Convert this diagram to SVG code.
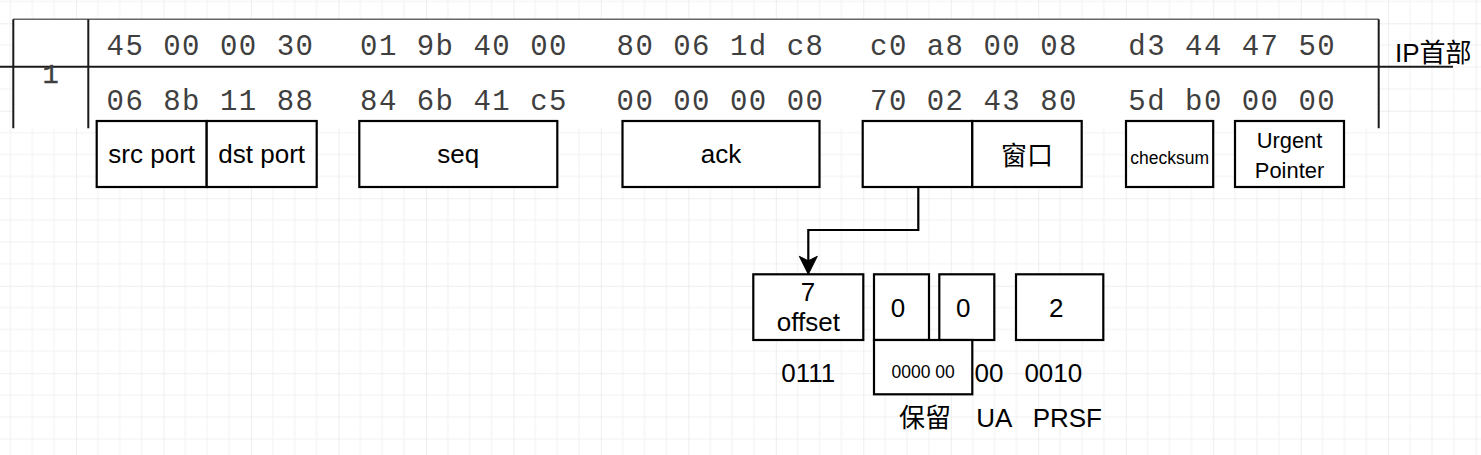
<svg xmlns="http://www.w3.org/2000/svg" width="1481" height="455" viewBox="0 0 1481 455">
<style>
.box{fill:#fff;stroke:#000;stroke-width:2.2}
.t{font-family:"Liberation Sans","Noto Sans CJK SC",Arial,sans-serif;font-size:26px;fill:#000;text-anchor:middle}
.hex{font-family:"Liberation Mono","DejaVu Sans Mono",monospace;font-size:29px;fill:#3f3f3f;letter-spacing:1.5px}
.tbl{stroke:#1a1a1a;stroke-width:2;fill:none}
.conn{fill:none;stroke:#000;stroke-width:2.2}
</style>
<defs>
<pattern id="grid" x="-11.48" y="23.3" width="87.48" height="87.48" patternUnits="userSpaceOnUse">
<path d="M21.87 0V87.48M43.74 0V87.48M65.61 0V87.48M0 21.87H87.48M0 43.74H87.48M0 65.61H87.48" stroke="#f2f2f2" stroke-width="1"/>
<path d="M0 0V87.48M0 0H87.48" stroke="#dddddd" stroke-width="1"/>
</pattern>
<marker id="arr" markerUnits="userSpaceOnUse" markerWidth="20" markerHeight="20" refX="0" refY="9" orient="auto" overflow="visible">
<path d="M12 9L-6 0L-1.5 9L-6 18Z" fill="#000" stroke="#000" stroke-width="1"/>
</marker>
</defs>
<rect width="1481" height="455" fill="#fff"/>
<rect width="1481" height="455" fill="url(#grid)"/>

<g id="ip-table">
<rect x="13.3" y="19.3" width="1365.4" height="109" fill="#fff"/>
<path d="M13.3 19.3H1378.7" stroke="#666" stroke-width="1.5" fill="none"/>
<path class="tbl" d="M13.3 19.3V128.3M88.3 19.3V128.3M1378.7 19.3V128.3M0 66.7H1453"/>
<text x="50.5" y="82.5" style="font-family:'Liberation Mono',monospace;font-size:27px;fill:#3f3f3f;stroke:#3f3f3f;stroke-width:0.4;text-anchor:middle">1</text>
<text class="hex" x="106.5" y="55">45 00 00 30</text>
<text class="hex" x="360" y="55">01 9b 40 00</text>
<text class="hex" x="616.5" y="55">80 06 1d c8</text>
<text class="hex" x="870" y="55">c0 a8 00 08</text>
<text class="hex" x="1128.3" y="55">d3 44 47 50</text>
<text class="hex" x="106.5" y="110">06 8b 11 88</text>
<text class="hex" x="360" y="110">84 6b 41 c5</text>
<text class="hex" x="616.5" y="110">00 00 00 00</text>
<text class="hex" x="870" y="110">70 02 43 80</text>
<text class="hex" x="1128.3" y="110">5d b0 00 00</text>
<text class="t" x="1395" y="62" style="text-anchor:start">IP首部</text>
</g>

<g id="connectors">
<path class="conn" d="M918.3 187V230H808.3V262.3" marker-end="url(#arr)"/>
</g>

<g id="src-port"><rect class="box" x="96.7" y="121" width="110" height="66"/><text class="t" x="151.7" y="163">src port</text></g>
<g id="dst-port"><rect class="box" x="206.7" y="121" width="110" height="66"/><text class="t" x="261.7" y="163">dst port</text></g>
<g id="seq"><rect class="box" x="359.3" y="121" width="198" height="66"/><text class="t" x="458.3" y="163">seq</text></g>
<g id="ack"><rect class="box" x="622.5" y="121" width="197" height="66"/><text class="t" x="721" y="163">ack</text></g>
<g id="offset-flags"><rect class="box" x="862.7" y="121" width="109.6" height="66"/></g>
<g id="window"><rect class="box" x="972.3" y="121" width="109.4" height="66"/><text class="t" x="1027" y="165">窗口</text></g>
<g id="checksum"><rect class="box" x="1126" y="121" width="87.2" height="66"/><text class="t" x="1169.6" y="164" style="font-size:17.5px">checksum</text></g>
<g id="urgent"><rect class="box" x="1235" y="121" width="109" height="66"/><text class="t" x="1289.5" y="148.3" style="font-size:21.9px">Urgent</text><text class="t" x="1289.5" y="178.3" style="font-size:21.9px">Pointer</text></g>

<g id="offset"><rect class="box" x="753.3" y="274.3" width="110" height="65.7"/><text class="t" x="808" y="300.7">7</text><text class="t" x="808.3" y="330.7">offset</text></g>
<g id="reserved-a"><rect class="box" x="874" y="274.3" width="55" height="65.7"/><text class="t" x="898" y="316.5">0</text></g>
<g id="reserved-b"><rect class="box" x="939.3" y="274.3" width="55" height="65.7"/><text class="t" x="963.3" y="316.5">0</text></g>
<g id="flags"><rect class="box" x="1016" y="274.3" width="87.3" height="65.7"/><text class="t" x="1056.3" y="316.5">2</text></g>
<g id="reserved-bits"><rect class="box" x="874" y="340" width="98.3" height="54.3"/><text class="t" x="923.2" y="378" style="font-size:17.5px">0000 00</text></g>

<g id="labels">
<text class="t" x="808.3" y="382">0111</text>
<text class="t" x="974.5" y="382" style="text-anchor:start">00</text>
<text class="t" x="1053.3" y="382">0010</text>
<text class="t" x="925" y="427">保留</text>
<text class="t" x="994.3" y="427">UA</text>
<text class="t" x="1067.3" y="427">PRSF</text>
</g>
</svg>
